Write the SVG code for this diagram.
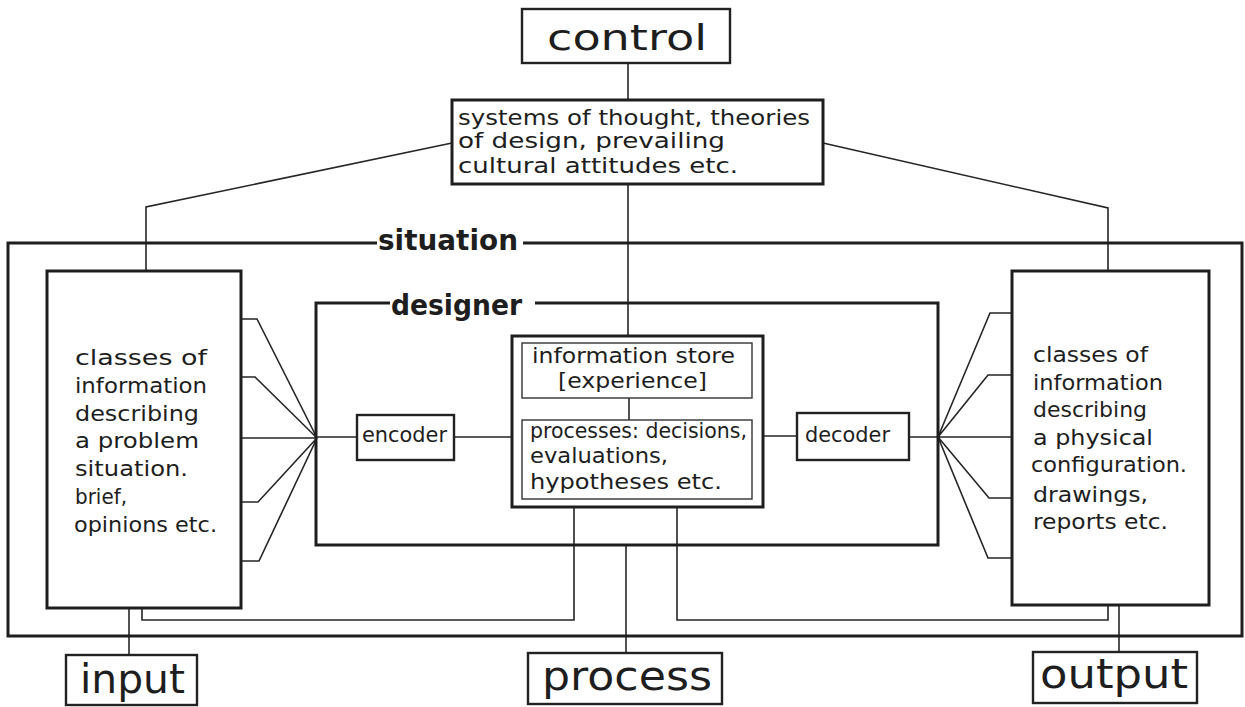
<svg xmlns="http://www.w3.org/2000/svg" width="1245" height="707" viewBox="0 0 1245 707">
<style>
.bx{fill:none;stroke:#1e1e1e;stroke-width:3}
.bm{fill:none;stroke:#222;stroke-width:2.4}
.bt{fill:none;stroke:#333;stroke-width:1.4}
.cn{fill:none;stroke:#262626;stroke-width:1.6}
.t{font-family:"DejaVu Sans","Liberation Sans",sans-serif;fill:#1e1e1e;font-size:21px}
.lg{font-family:"DejaVu Sans","Liberation Sans",sans-serif;fill:#1e1e1e;font-size:40px}
.hd{font-family:"DejaVu Sans","Liberation Sans",sans-serif;fill:#1e1e1e;font-size:28px;font-weight:bold}
</style>
<rect width="1245" height="707" fill="#fff"/>
<g id="connectors">
<path class="cn" d="M628,63 V100"/>
<path class="cn" d="M628,184 V336"/>
<path class="cn" d="M629,398 V420"/>
<path class="cn" d="M452,143 L146,207 V271"/>
<path class="cn" d="M823,143 L1108,208 V271"/>
<path class="cn" d="M241,319 H257 L317,438 M241,377 H255 L317,438 M241,438 H317 M241,502 H258 L317,438 M241,561 H259 L317,438"/>
<path class="cn" d="M317,437 H357 M454,437 H512"/>
<path class="cn" d="M1012,313 H990 L938,437 M1012,375 H988 L938,437 M1012,437 H938 M1012,498 H989 L938,437 M1012,558 H988 L938,437"/>
<path class="cn" d="M909,437 H938 M763,436 H797"/>
<path class="cn" d="M129,608 V655"/>
<path class="cn" d="M1119,605 V652"/>
<path class="cn" d="M626,545 V653"/>
<path class="cn" d="M574,507 V620 H142 V608"/>
<path class="cn" d="M677,507 V620 H1108 V605"/>
</g>
<g id="situation">
<path class="bx" d="M377,243 H8 V636 H1242 V243 H523"/>
<text class="hd" x="378" y="250" textLength="140" lengthAdjust="spacingAndGlyphs">situation</text>
</g>
<g id="designer">
<path class="bx" d="M390,303 H316 V545 H938 V303 H535"/>
<text class="hd" x="391" y="315" textLength="131" lengthAdjust="spacingAndGlyphs">designer</text>
</g>
<g id="control">
<rect class="bm" x="522" y="9" width="208" height="54"/>
<text class="lg" x="547" y="50" font-size="35" textLength="160" lengthAdjust="spacingAndGlyphs" style="font-size:35px">control</text>
</g>
<g id="systems">
<rect class="bx" x="452" y="100" width="371" height="84"/>
<text class="t" x="458" y="125" textLength="352" lengthAdjust="spacingAndGlyphs">systems of thought, theories</text>
<text class="t" x="458" y="148" textLength="267" lengthAdjust="spacingAndGlyphs">of design, prevailing</text>
<text class="t" x="458" y="173" textLength="280" lengthAdjust="spacingAndGlyphs">cultural attitudes  etc.</text>
</g>
<g id="input-info">
<rect class="bx" x="47" y="271" width="194" height="337"/>
<text class="t" x="75" y="365" textLength="132" lengthAdjust="spacingAndGlyphs">classes of</text>
<text class="t" x="75" y="393" textLength="132" lengthAdjust="spacingAndGlyphs">information</text>
<text class="t" x="75" y="421" textLength="124" lengthAdjust="spacingAndGlyphs">describing</text>
<text class="t" x="75" y="448" textLength="124" lengthAdjust="spacingAndGlyphs">a problem</text>
<text class="t" x="75" y="476" textLength="113" lengthAdjust="spacingAndGlyphs">situation.</text>
<text class="t" x="75" y="504" textLength="52" lengthAdjust="spacingAndGlyphs">brief,</text>
<text class="t" x="74" y="532" textLength="143" lengthAdjust="spacingAndGlyphs">opinions etc.</text>
</g>
<g id="output-info">
<rect class="bx" x="1012" y="271" width="197" height="334"/>
<text class="t" x="1033" y="362" textLength="115" lengthAdjust="spacingAndGlyphs">classes of</text>
<text class="t" x="1033" y="390" textLength="130" lengthAdjust="spacingAndGlyphs">information</text>
<text class="t" x="1033" y="417" textLength="114" lengthAdjust="spacingAndGlyphs">describing</text>
<text class="t" x="1033" y="445" textLength="120" lengthAdjust="spacingAndGlyphs">a physical</text>
<text class="t" x="1031" y="472" textLength="156" lengthAdjust="spacingAndGlyphs">configuration.</text>
<text class="t" x="1033" y="502" textLength="115" lengthAdjust="spacingAndGlyphs">drawings,</text>
<text class="t" x="1033" y="529" textLength="135" lengthAdjust="spacingAndGlyphs">reports etc.</text>
</g>
<g id="central">
<rect class="bx" x="512" y="336" width="251" height="171"/>
</g>
<g id="information-store">
<rect class="bt" x="522" y="343" width="230" height="55"/>
<text class="t" x="532" y="363" textLength="203" lengthAdjust="spacingAndGlyphs">information store</text>
<text class="t" x="558" y="388" textLength="149" lengthAdjust="spacingAndGlyphs">[experience]</text>
</g>
<g id="processes">
<rect class="bt" x="522" y="420" width="230" height="79"/>
<text class="t" x="530" y="438" textLength="217" lengthAdjust="spacingAndGlyphs">processes: decisions,</text>
<text class="t" x="530" y="463" textLength="138" lengthAdjust="spacingAndGlyphs">evaluations,</text>
<text class="t" x="530" y="489" textLength="192" lengthAdjust="spacingAndGlyphs">hypotheses  etc.</text>
</g>
<g id="encoder">
<rect class="bm" x="357" y="415" width="97" height="45"/>
<text class="t" x="362" y="442" textLength="85" lengthAdjust="spacingAndGlyphs">encoder</text>
</g>
<g id="decoder">
<rect class="bm" x="797" y="413" width="112" height="47"/>
<text class="t" x="805" y="442" textLength="85" lengthAdjust="spacingAndGlyphs">decoder</text>
</g>
<g id="input">
<rect class="bm" x="66" y="655" width="131" height="50"/>
<text class="lg" x="80" y="693" textLength="105" lengthAdjust="spacingAndGlyphs">input</text>
</g>
<g id="process">
<rect class="bm" x="528" y="653" width="194" height="51"/>
<text class="lg" x="542" y="690" textLength="170" lengthAdjust="spacingAndGlyphs">process</text>
</g>
<g id="output">
<rect class="bm" x="1033" y="652" width="164" height="51"/>
<text class="lg" x="1040" y="688" textLength="148" lengthAdjust="spacingAndGlyphs">output</text>
</g>
</svg>
